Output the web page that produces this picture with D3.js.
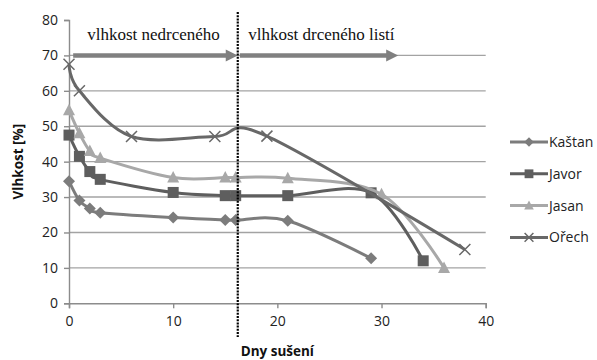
<!DOCTYPE html>
<html><head><meta charset="utf-8">
<script src="https://cdn.jsdelivr.net/npm/d3@7"></script>
<style>body{margin:0;background:#fff}svg{display:block}</style>
</head><body>
<script>
const seriesNames = ["Kaštan", "Javor", "Jasan", "Ořech"];
const kastanDays = [0, 1, 2, 3, 10, 15, 16, 21, 29];
const kastanValues = [34.5, 29, 26.8, 25.6, 24.2, 23.5, 23.5, 23.3, 12.7];
const javorDays = [0, 1, 2, 3, 10, 15, 16, 21, 29, 34];
const javorValues = [47.5, 41.5, 37.2, 35, 31.3, 30.4, 30.4, 30.4, 31.2, 12];
const jasanDays = [0, 1, 2, 3, 10, 15, 16, 21, 30, 36];
const jasanValues = [54.5, 48, 43, 41, 35.5, 35.5, 35.5, 35.3, 30.8, 10];
const orechDays = [0, 1, 6, 14, 19, 38];
const orechValues = [67.5, 60, 47.1, 47.1, 47.2, 15.2];
const xTicks = [0, 10, 20, 30, 40];
const yTicks = [0, 10, 20, 30, 40, 50, 60, 70, 80];
const dividerDay = 16.2;
const arrowDays = [[0.4, 16.2], [16.4, 31.6]];
const arrowLevel = 70;
const phaseLabels = ["vlhkost nedrceného", "vlhkost drceného listí"];
const phaseLabelDays = [1.75, 17.2];
const xTitle = "Dny sušení";
const yTitle = "Vlhkost [%]";

const W = 597, H = 360;
const svg = d3.select("body").append("svg").attr("width", W).attr("height", H);
const x = d3.scaleLinear().domain([0, 40]).range([69, 485.7]);
const y = d3.scaleLinear().domain([0, 80]).range([303.3, 20]);
const sans = "'Open Sans', 'Liberation Sans', sans-serif";

// gridlines
svg.append("g").selectAll("line").data(yTicks.filter(v => v > 0 && v < 80)).join("line")
  .attr("x1", x(0)).attr("x2", x(40)).attr("y1", d => y(d)).attr("y2", d => y(d))
  .attr("stroke", "#a3a3a3").attr("stroke-width", 1.4);

// axes
const yAxis = svg.append("g").attr("transform", `translate(${x(0)},0)`)
  .call(d3.axisLeft(y).tickValues(yTicks).tickSize(5).tickPadding(6));
const xAxis = svg.append("g").attr("transform", `translate(0,${y(0)})`)
  .call(d3.axisBottom(x).tickValues(xTicks).tickSize(5).tickPadding(8));
[xAxis, yAxis].forEach(g => {
  g.select(".domain").attr("stroke", "#8c8c8c").attr("stroke-width", 1.4);
  g.selectAll(".tick line").attr("stroke", "#8c8c8c").attr("stroke-width", 1.4);
  g.selectAll("text").attr("font-family", sans).attr("font-size", 14).attr("fill", "#222");
});

// titles
svg.append("text").attr("x", (x(0) + x(40)) / 2).attr("y", 356).attr("text-anchor", "middle")
  .attr("font-family", sans).attr("font-weight", "bold").attr("font-size", 13.5).attr("fill", "#111").text(xTitle);
svg.append("text").attr("transform", `translate(23,${(y(0) + y(80)) / 2}) rotate(-90)`).attr("text-anchor", "middle")
  .attr("font-family", sans).attr("font-weight", "bold").attr("font-size", 13.5).attr("fill", "#111").text(yTitle);

// arrows
const arrowColor = "#808080";
arrowDays.forEach(([a, b]) => {
  const ya = y(arrowLevel), xb = x(b);
  svg.append("line").attr("x1", x(a)).attr("x2", xb - 10).attr("y1", ya).attr("y2", ya)
    .attr("stroke", arrowColor).attr("stroke-width", 4.5);
  svg.append("path").attr("d", `M${xb},${ya} L${xb - 12},${ya - 6} L${xb - 12},${ya + 6} Z`).attr("fill", arrowColor);
});
phaseLabels.forEach((t, i) => {
  svg.append("text").attr("x", x(phaseLabelDays[i])).attr("y", 40)
    .attr("font-family", "'Liberation Serif', 'Times New Roman', serif").attr("font-size", 17).attr("fill", "#111").text(t);
});

// series
const series = [
  {name: seriesNames[0], days: kastanDays, vals: kastanValues, color: "#7c7c7c", marker: "diamond"},
  {name: seriesNames[1], days: javorDays, vals: javorValues, color: "#5e5e5e", marker: "square"},
  {name: seriesNames[2], days: jasanDays, vals: jasanValues, color: "#a8a8a8", marker: "triangle"},
  {name: seriesNames[3], days: orechDays, vals: orechValues, color: "#686868", marker: "cross"}
];
const line = d3.line().x(d => x(d[0])).y(d => y(d[1])).curve(d3.curveCardinal.tension(0));

function drawMarker(g, type, cx, cy, color, s) {
  if (type === "diamond") {
    g.append("path").attr("d", `M${cx},${cy - 6 * s} L${cx + 6 * s},${cy} L${cx},${cy + 6 * s} L${cx - 6 * s},${cy} Z`).attr("fill", color);
  } else if (type === "square") {
    g.append("rect").attr("x", cx - 5.5 * s).attr("y", cy - 5.5 * s).attr("width", 11 * s).attr("height", 11 * s).attr("fill", color);
  } else if (type === "triangle") {
    g.append("path").attr("d", `M${cx},${cy - 6.5 * s} L${cx + 6 * s},${cy + 5 * s} L${cx - 6 * s},${cy + 5 * s} Z`).attr("fill", color);
  } else {
    const r = 5.5 * s;
    g.append("path").attr("d", `M${cx - r},${cy - r} L${cx + r},${cy + r} M${cx - r},${cy + r} L${cx + r},${cy - r}`)
      .attr("stroke", color).attr("stroke-width", 1.5).attr("fill", "none");
  }
}

series.forEach(s => {
  const pts = s.days.map((d, i) => [d, s.vals[i]]);
  svg.append("path").attr("d", line(pts)).attr("fill", "none").attr("stroke", s.color).attr("stroke-width", 3);
  const g = svg.append("g");
  pts.forEach(p => drawMarker(g, s.marker, x(p[0]), y(p[1]), s.color, 1));
});

// divider
svg.append("line").attr("x1", x(dividerDay)).attr("x2", x(dividerDay)).attr("y1", 12).attr("y2", 337)
  .attr("stroke", "#000").attr("stroke-width", 2.2).attr("stroke-dasharray", "2,1.2");

// legend
const ly0 = 142, ldy = 31.8;
series.forEach((s, i) => {
  const ly = ly0 + i * ldy;
  const g = svg.append("g");
  g.append("line").attr("x1", 510).attr("x2", 548).attr("y1", ly).attr("y2", ly).attr("stroke", s.color).attr("stroke-width", 3);
  drawMarker(g, s.marker, 529, ly, s.color, 0.8);
  g.append("text").attr("x", 549).attr("y", ly).attr("dy", "0.35em").attr("font-family", sans).attr("font-size", 14).attr("fill", "#222").text(s.name);
});
</script>
</body></html>
